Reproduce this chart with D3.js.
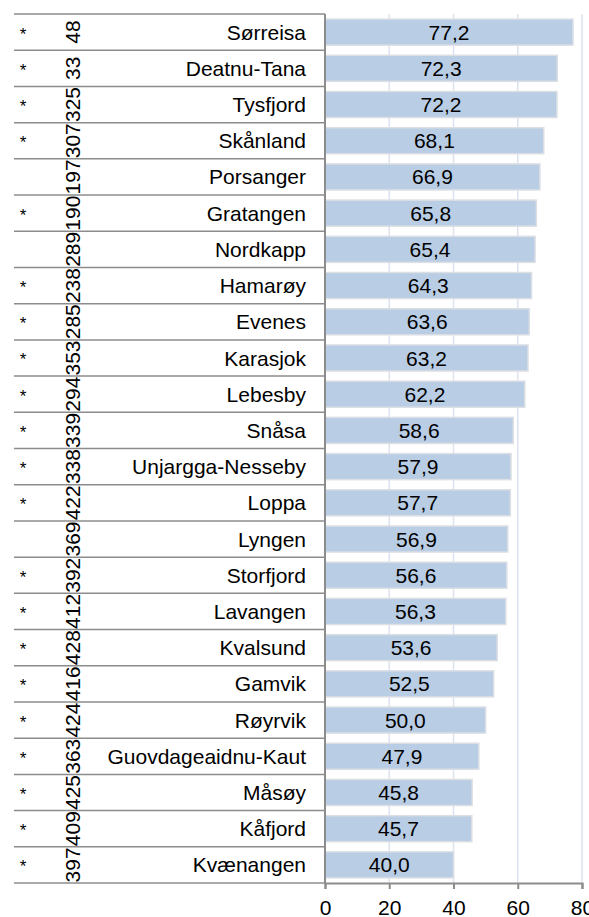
<!DOCTYPE html>
<html>
<head>
<meta charset="utf-8">
<script src="https://cdn.jsdelivr.net/npm/d3@7"></script>
<style>
  body { margin: 0; background: #fff; }
  svg { display: block; font-family: "Liberation Sans", Arial, sans-serif; }
</style>
</head>
<body>
<div id="chart"></div>
<script>
// kommuner, sorted by value
const names = ['Sørreisa', 'Deatnu-Tana', 'Tysfjord', 'Skånland', 'Porsanger', 'Gratangen',
    'Nordkapp', 'Hamarøy', 'Evenes', 'Karasjok', 'Lebesby', 'Snåsa', 'Unjargga-Nesseby',
    'Loppa', 'Lyngen', 'Storfjord', 'Lavangen', 'Kvalsund', 'Gamvik', 'Røyrvik',
    'Guovdageaidnu-Kaut', 'Måsøy', 'Kåfjord', 'Kvænangen'];
const values = [77.2, 72.3, 72.2, 68.1, 66.9, 65.8, 65.4, 64.3, 63.6, 63.2, 62.2, 58.6, 57.9,
    57.7, 56.9, 56.6, 56.3, 53.6, 52.5, 50.0, 47.9, 45.8, 45.7, 40.0];
const marks = ['*', '*', '*', '*', '', '*', '', '*', '*', '*', '*', '*', '*',
    '*', '', '*', '*', '*', '*', '*', '*', '*', '*', '*'];
const counts = [48, 33, 325, 307, 197, 190, 289, 238, 285, 353, 294, 339, 338,
    422, 369, 392, 412, 428, 416, 424, 363, 425, 409, 397];
const ticks = [0, 20, 40, 60, 80];

const width = 589, height = 917;
const plotTop = 14, plotBottom = 883;

const locale = d3.formatLocale({decimal: ',', thousands: ' ', grouping: [3], currency: ['', ' kr']});
const fmt = locale.format('.1f');

const svg = d3.select('#chart').append('svg')
    .attr('width', width)
    .attr('height', height);

const x = d3.scaleLinear()
    .domain([0, 80])
    .range([325, 582]);

const y = d3.scaleBand()
    .domain(names)
    .range([plotTop, plotBottom])
    .paddingInner(0.28)
    .paddingOuter(0.14);

// rows of the table on the left (same band, no padding)
const row = d3.scaleBand()
    .domain(names)
    .range([plotTop, plotBottom]);

// grid lines
svg.append('g')
    .selectAll('line')
    .data(ticks.slice(1))
    .enter().append('line')
    .attr('x1', d => x(d)).attr('x2', d => x(d))
    .attr('y1', plotTop).attr('y2', plotBottom)
    .attr('stroke', '#dbe3f0')
    .attr('stroke-width', 1.5);

// table row lines
const edges = names.map(n => row(n)).concat([plotBottom]);
svg.append('g')
    .selectAll('line')
    .data(edges)
    .enter().append('line')
    .attr('x1', 14).attr('x2', 325)
    .attr('y1', d => d).attr('y2', d => d)
    .attr('stroke', '#8c8c8c')
    .attr('stroke-width', 1.5);

// bars
svg.append('g')
    .selectAll('rect')
    .data(names)
    .enter().append('rect')
    .attr('x', x(0))
    .attr('y', d => y(d))
    .attr('width', (d, i) => x(values[i]) - x(0))
    .attr('height', y.bandwidth())
    .attr('fill', '#b9cde5')
    .attr('stroke', '#dcdfe4')
    .attr('stroke-width', 1.5);

// bar labels
svg.append('g')
    .selectAll('text')
    .data(names)
    .enter().append('text')
    .attr('x', (d, i) => (x(0) + x(values[i])) / 2)
    .attr('y', d => row(d) + row.bandwidth() / 2)
    .attr('dy', '0.36em')
    .attr('text-anchor', 'middle')
    .attr('font-size', 21)
    .attr('fill', '#000')
    .text((d, i) => fmt(values[i]));

// names
svg.append('g')
    .selectAll('text')
    .data(names)
    .enter().append('text')
    .attr('x', 306)
    .attr('y', d => row(d) + row.bandwidth() / 2)
    .attr('dy', '0.36em')
    .attr('text-anchor', 'end')
    .attr('font-size', 21)
    .text(d => d);

// asterisks
svg.append('g')
    .selectAll('text')
    .data(names)
    .enter().append('text')
    .attr('x', 23)
    .attr('y', d => row(d) + row.bandwidth() / 2 + 7.5)
    .attr('text-anchor', 'middle')
    .attr('font-size', 17)
    .text((d, i) => marks[i]);

// counts, rotated
svg.append('g')
    .selectAll('text')
    .data(names)
    .enter().append('text')
    .attr('transform', d => 'translate(80,' + (row(d) + row.bandwidth() / 2) + ') rotate(-90)')
    .attr('text-anchor', 'middle')
    .attr('font-size', 21)
    .text((d, i) => counts[i]);

// y axis line
svg.append('line')
    .attr('x1', x(0)).attr('x2', x(0))
    .attr('y1', plotTop).attr('y2', plotBottom)
    .attr('stroke', '#8c8c8c')
    .attr('stroke-width', 2);

// x axis
const xAxis = svg.append('g')
    .attr('transform', 'translate(0,' + plotBottom + ')')
    .call(d3.axisBottom(x).tickValues(ticks).tickSize(6).tickPadding(11).tickFormat(d3.format('d')));
xAxis.select('.domain').attr('stroke', '#8c8c8c').attr('stroke-width', 2);
xAxis.selectAll('.tick line').attr('stroke', '#8c8c8c').attr('stroke-width', 2);
xAxis.selectAll('.tick text')
    .attr('font-size', 21)
    .attr('font-family', '"Liberation Sans", Arial, sans-serif')
    .attr('fill', '#000');
</script>
</body>
</html>
